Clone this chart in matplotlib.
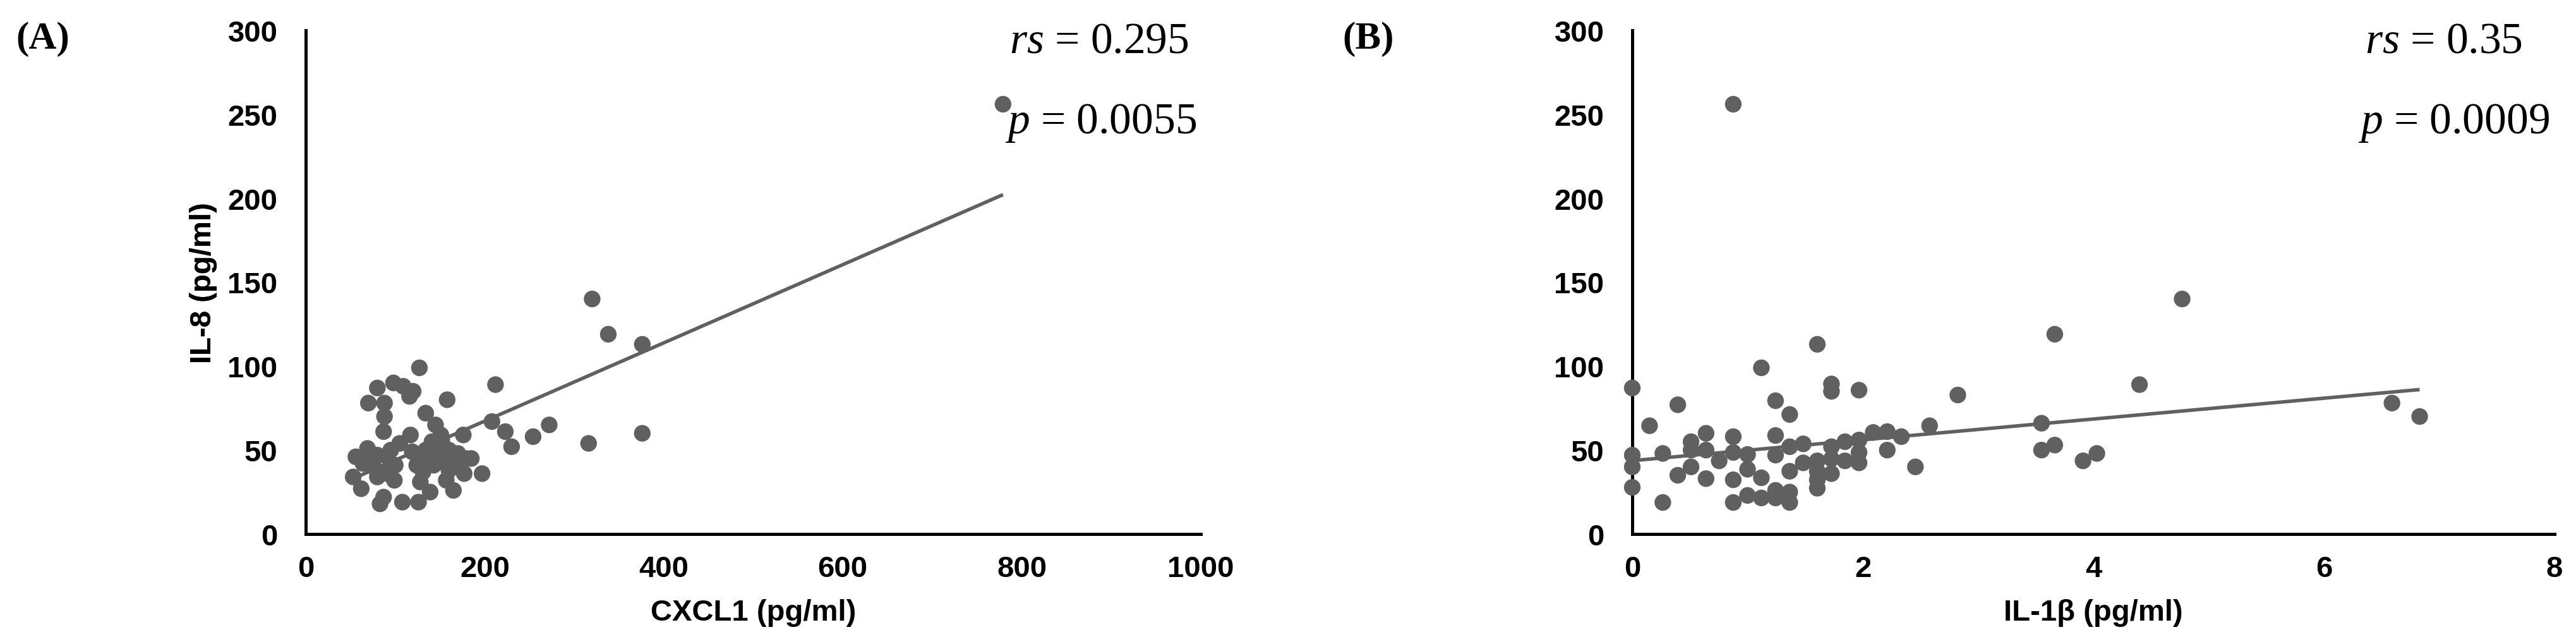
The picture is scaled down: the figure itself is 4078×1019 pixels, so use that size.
# plot.py
import numpy as np
import matplotlib.pyplot as plt

plt.rcParams['mathtext.fontset'] = 'custom'
plt.rcParams['mathtext.it'] = 'Liberation Serif:italic'
plt.rcParams['mathtext.rm'] = 'Liberation Serif'

# panel A: CXCL1 vs IL-8
cxcl1 = [127, 212, 80, 98, 109, 120, 116, 70, 88, 158, 88, 134, 145, 208, 87, 151,
         176, 223, 272, 254, 230, 117, 105, 134,
         56, 53, 62, 69, 80, 91, 80, 91, 99, 76, 87, 83, 108, 126, 139, 128, 131,
         119, 143, 152, 154, 157, 165, 168, 177, 179, 197, 148, 138, 124,
         126, 141, 160, 146, 100, 64, 72, 95, 170, 185, 160,
         320, 338, 376, 316, 376, 779]
il8_a = [99, 89, 87, 90, 88, 85, 82, 78, 78, 80, 70, 72, 65, 67, 61, 59,
         59, 61, 65, 58, 52, 59, 54, 50,
         46, 34, 27, 51, 47, 46, 34, 36, 32, 40, 22, 18, 19, 19, 25, 31, 37,
         49, 41, 56, 46, 32, 26, 41, 36, 45, 36, 51, 45, 41,
         46, 55, 50, 43, 41, 42, 46, 50, 48, 45, 38,
         140, 119, 113, 54, 60, 256]

# panel B: IL-1beta vs IL-8
il1b = [0, 0.395, 0.15, 1.12, 1.605, 1.243, 1.366, 1.728, 1.728, 1.967, 2.824, 2.579,
        2.456, 3.55, 3.55, 3.665, 3.665,
        0, 0, 0, 0.265, 0.265, 0.51, 0.51, 0.51, 0.395, 0.64, 0.64, 0.64, 0.754,
        0.876, 0.876, 0.876, 0.876, 1.0, 1.0, 1.0, 1.12, 1.12, 1.243, 1.243, 1.243,
        1.243, 1.366, 1.366, 1.366, 1.366, 1.483, 1.483, 1.605, 1.605, 1.605, 1.605,
        1.728, 1.728, 1.728, 1.845, 1.845, 1.967, 1.967, 1.967, 2.09, 2.212, 2.212,
        2.334, 0.876, 4.77, 4.40, 3.91, 4.03, 6.59, 6.83]
il8_b = [87, 77, 64.5, 99, 113, 79.4, 71.2, 89.4, 85, 85.7, 82.8, 64.5,
         40, 66, 50, 53, 119,
         47, 40, 27.8, 48, 18.8, 55, 50, 40, 35, 60, 50, 33, 43.6,
         58, 48.6, 32.3, 18.8, 47.4, 38.6, 23, 33.5, 21.5, 58.7, 47, 26,
         21.5, 52, 37.4, 25, 18.8, 53.7, 42.4, 43.6, 37.4, 27.3, 32.3,
         52, 44.8, 36, 55, 43.6, 56, 48.6, 42.4, 60.5, 61, 50,
         58, 256, 140, 89, 43.6, 48, 78, 70]

# trendlines as drawn (intercept, slope)
trend_a = (20.7, 0.2329)
trend_b = (43.7, 6.2)

gray = '#606060'
W, H = 4078, 1020
fig = plt.figure(figsize=(W / 100, H / 100), dpi=100)

panels = [
    dict(rect=[484 / W, 174 / H, 1417 / W, 797 / H], x=cxcl1, y=il8_a, trend=trend_a,
         xlim=(0, 1000), xticks=np.arange(0, 1001, 200), xlabel='CXCL1 (pg/ml)',
         rs='0.295', p='0.0055', letter='(A)', lx=25, rsx=1882, px=1894),
    dict(rect=[2584 / W, 174 / H, 1460 / W, 797 / H], x=il1b, y=il8_b, trend=trend_b,
         xlim=(0, 8), xticks=np.arange(0, 9, 2), xlabel='IL-1β (pg/ml)',
         rs='0.35', p='0.0009', letter='(B)', lx=2125, rsx=3993, px=4036),
]

for pn in panels:
    ax = fig.add_axes(pn['rect'])
    x = np.array(pn['x'], dtype=float)
    y = np.array(pn['y'], dtype=float)
    b0, b1 = pn['trend']
    xl = np.array([x.min(), x.max()])
    ax.plot(xl, b0 + b1 * xl, color=gray, lw=4, zorder=2, solid_capstyle='butt')
    ax.scatter(x, y, s=360, color=gray, edgecolors='none', zorder=3, clip_on=False)

    ax.set_xlim(*pn['xlim'])
    ax.set_ylim(0, 300)
    ax.set_xticks(pn['xticks'])
    ax.set_yticks(np.arange(0, 301, 50))
    for s in ['top', 'right']:
        ax.spines[s].set_visible(False)
    for s in ['left', 'bottom']:
        ax.spines[s].set_linewidth(3.6)
        ax.spines[s].set_color('black')
    ax.tick_params(axis='both', length=0, labelsize=34)
    ax.tick_params(axis='x', pad=24)
    ax.tick_params(axis='y', pad=32)
    for lab in ax.get_xticklabels() + ax.get_yticklabels():
        lab.set_fontfamily('Liberation Sans')
        lab.set_fontweight('bold')

    ax.set_xlabel(pn['xlabel'], fontsize=34, fontweight='bold', family='Liberation Sans')
    ax.set_ylabel('IL-8 (pg/ml)', fontsize=34, fontweight='bold', family='Liberation Sans')
    w_px = pn['rect'][2] * W
    ax.xaxis.set_label_coords(0.5, -0.128)
    ax.yaxis.set_label_coords((344 - pn['rect'][0] * W) / w_px, 0.5)

    fig.text(pn['rsx'] / W, 1 - 83 / H, r'$\mathit{rs}$ = ' + pn['rs'], fontsize=50,
             family='Liberation Serif', va='baseline', ha='right')
    fig.text(pn['px'] / W, 1 - 211 / H, r'$\mathit{p}$ = ' + pn['p'], fontsize=50,
             family='Liberation Serif', va='baseline', ha='right')
    fig.text(pn['lx'] / W, 1 - 77 / H, pn['letter'], fontsize=44, fontweight='bold',
             family='Liberation Serif', va='baseline')

fig.savefig('out.png', dpi=100)
